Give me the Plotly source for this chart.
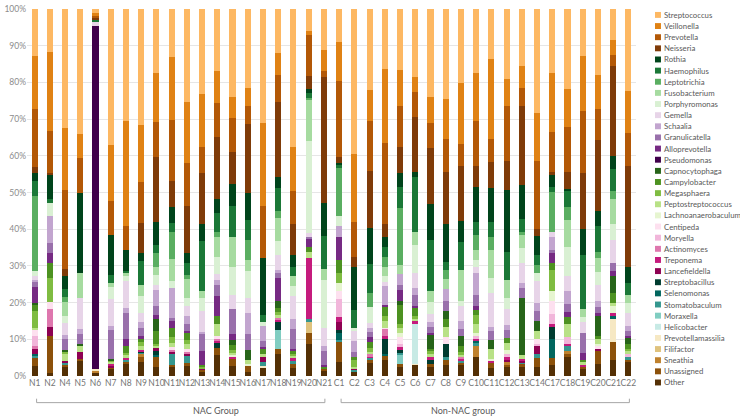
import plotly.graph_objects as go

samples = ["N1", "N2", "N4", "N5", "N6", "N7", "N8", "N9", "N10", "N11",
           "N12", "N13", "N14", "N15", "N16", "N17", "N18", "N19", "N20", "N21",
           "C1", "C2", "C3", "C4", "C5", "C6", "C7", "C8", "C9", "C10",
           "C11", "C12", "C13", "C14", "C17", "C18", "C19", "C20", "C21", "C22"]

# relative abundance (%) per genus, one value per sample
streptococcus = [12.8, 11.7, 32.4, 34, 1.0, 37, 30.5, 31.7, 17.3, 13.2, 25, 23.3, 16.8, 24, 21.6, 30.9, 11.9, 37.5, 6.1, 11.2,
                 9, 39.5, 22, 16.2, 16.7, 18.6, 24.1, 24.5, 20, 17.3, 13.7, 19.1, 15.5, 28, 17.3, 21.8, 12.8, 18, 8.5, 22.4]
veillonella = [14.4, 21.5, 17, 6.8, 0.8, 15.2, 28.5, 15.3, 13.4, 17.2, 16.6, 14.5, 8.7, 5.8, 4.8, 22.7, 6.0, 12.1, 1.0, 5.6,
               10.7, 18.6, 8.5, 20.2, 9.6, 4.1, 6.9, 11, 16.8, 13.3, 21.8, 7.4, 6, 13, 16.3, 10.3, 15, 9.2, 4.1, 11.3]
prevotella = [15.8, 11.6, 21.5, 9.4, 0.7, 9.4, 6.7, 11.3, 9.5, 16.6, 11.6, 7.2, 9.4, 9.2, 5.0, 14.3, 7.5, 8.9, 11.1, 1.8,
              20.6, 9.4, 13.7, 22.1, 11.3, 6.7, 7.0, 8.9, 5.9, 12.2, 6.2, 15.2, 5, 18.4, 10.8, 12.3, 16.8, 8.5, 2.9, 9.1]
neisseria = [1.6, 0.4, 2.0, 0, 0.3, 0, 0, 8.3, 17.9, 7.1, 12.6, 14, 16.9, 8.8, 18.8, 0, 20.3, 8.5, 3.5, 34.1,
             1.7, 2.7, 15.5, 3.6, 7.0, 15.0, 15.1, 14.1, 14.9, 5.6, 7.1, 7.9, 21.5, 2.1, 0.9, 4.7, 15.3, 19.2, 24.6, 27.6]
rothia = [2.3, 6.7, 3.6, 22, 0, 10.8, 5.8, 2.0, 6.1, 4.2, 2.8, 4.4, 3.6, 5.8, 7.4, 15.4, 3.1, 3.4, 1.1, 8.9,
          0.3, 11.6, 9.6, 2.7, 3.8, 1.3, 9.9, 10.3, 5.8, 9.7, 9.3, 17, 9.2, 5.1, 3.1, 0.6, 7.1, 4.1, 3.6, 4.2]
haemophilus = [4.1, 1.1, 2.0, 0, 0.5, 2.2, 0.4, 6.5, 2.2, 2.6, 3.2, 13.9, 5.4, 8.5, 5.4, 1.8, 6.1, 2.4, 1.4, 9.0,
               1.0, 4.9, 8.0, 2.7, 5.6, 15.1, 13.9, 2.2, 7.7, 3.5, 4.0, 7.6, 3.6, 2.7, 1.4, 4.3, 14.8, 7.1, 5.9, 3.2]
leptotrichia = [20.3, 0, 1.5, 0, 0, 0, 0, 0, 3.8, 7.3, 1.0, 0, 1.3, 0, 5.4, 0, 1.8, 0, 0.3, 0,
                13, 0, 3.9, 2.7, 15.5, 0, 0, 2.7, 0, 4.1, 3.6, 0, 0.9, 2.2, 11, 3.6, 0, 1.8, 2.2, 0]
fusobacterium = [0, 0, 3.7, 6.7, 0, 1.2, 0.9, 3.1, 2.2, 5.9, 5.1, 1.8, 5.4, 8.1, 3.1, 0, 6.3, 2.7, 11.3, 3.1,
                 0, 0, 0, 2.6, 2.5, 3.5, 3.1, 2.7, 8.5, 2.7, 7.6, 4.9, 3.5, 0, 0, 7.2, 2.3, 3.6, 6.7, 2.2]
porphyromonas = [1.4, 3.6, 2.0, 0, 0, 3.3, 1.2, 4.5, 2.7, 2.0, 2.2, 3.6, 4.5, 7.6, 7.2, 1.2, 4.0, 2.7, 25, 13,
                 2.9, 0.9, 4.2, 1.4, 0, 7.7, 3.2, 0, 1.3, 1.8, 4.0, 3.0, 4.1, 2.0, 0, 8.0, 1.4, 3.6, 4.5, 2.7]
gemella = [1.0, 0, 3.1, 8.5, 1.2, 7.2, 7.4, 2.7, 1.3, 0, 2.7, 5.7, 1.8, 4.0, 4.0, 0, 4.0, 6.3, 1.3, 4.9,
           0, 2.7, 1.3, 1.3, 0, 4.0, 2.2, 0, 4.0, 1.8, 9.4, 4.5, 5.3, 6.1, 1.3, 4.1, 3.0, 4.5, 6.3, 3.6]
schaalia = [0.7, 7.4, 1.3, 1.2, 0, 1.1, 1.3, 1.6, 4.5, 8.1, 2.3, 0.6, 1.3, 0, 5.8, 4.0, 0.9, 2.7, 0, 1.3,
            2.9, 3.1, 1.3, 5.0, 3.1, 1.8, 1.3, 3.2, 2.3, 5.8, 1.1, 1.2, 1.4, 2.2, 3.6, 3.6, 0, 1.4, 0, 1.3]
granulicatella = [1.4, 2.7, 3.0, 2.9, 0, 7.9, 7.2, 2.2, 2.3, 0.9, 1.7, 4.6, 2.9, 6.7, 4.5, 1.6, 1.3, 5.4, 0.4, 4.0,
                  0, 1.3, 1.2, 0, 1.3, 3.1, 1.7, 2.7, 1.8, 3.1, 2.5, 2.2, 2.7, 2.7, 0.9, 2.2, 5.4, 1.7, 2.2, 1.4]
alloprevotella = [4.2, 2.7, 0, 0, 0, 0, 1.8, 0.6, 1.2, 1.8, 0.4, 4.0, 5.6, 1.6, 0, 0.6, 6.3, 0.5, 2.2, 0.4,
                  6.3, 0, 1.5, 0.7, 3.1, 0.6, 0.4, 0, 0, 1.2, 0, 0, 0, 0, 2.7, 1.4, 1.8, 0.9, 1.3, 0.4]
pseudomonas = [0, 0, 0, 0, 93.4, 0, 0, 0, 0, 0, 0, 0, 0, 0, 0, 0, 0, 0, 0, 0,
               0, 0, 0, 0, 0, 0, 0, 0, 0, 0, 0, 0, 0, 0, 0, 0, 0, 0, 0, 0]
capnocytophaga = [0.6, 0, 0.4, 0.4, 0, 0.4, 0, 0, 3.3, 0, 0, 0, 0, 1.5, 2.7, 0, 1.8, 0, 0, 0,
                  0, 0, 0, 0, 1.1, 0, 3.9, 2.2, 2.7, 0, 2.3, 0, 15.7, 2.7, 0, 0, 0, 5.4, 4.5, 1.8]
campylobacter = [1.5, 4.0, 0, 0, 0, 0, 2.0, 0.9, 3.4, 2.5, 2.1, 0.4, 2.2, 1.2, 0, 1.3, 1.1, 0.9, 1.3, 0.4,
                 3.6, 0.9, 1.5, 2.4, 5.0, 2.1, 0.6, 2.2, 1.8, 1.2, 0, 1.5, 0, 0, 1.8, 1.7, 0.5, 0.9, 2.7, 1.4]
megasphaera = [4.8, 6.5, 0.6, 0, 0, 0.4, 0.6, 1.1, 0.6, 1.8, 1.0, 0.4, 0, 0.9, 0, 0, 0.9, 0.6, 0, 0,
               2.7, 1.8, 1.2, 1.3, 1.1, 0.9, 0.7, 0, 0.6, 2.5, 0, 0, 0, 0, 5.8, 0, 0, 0, 0, 0.4]
peptostreptococcus = [0.4, 0, 1.8, 1.8, 0, 0.6, 0.9, 1.0, 0.6, 1.1, 1.3, 0, 3.1, 0.4, 0.9, 0.9, 0.7, 0.7, 1.8, 0,
                      0, 0.4, 0.6, 1.8, 1.3, 0.6, 0.9, 2.7, 0.7, 2.6, 2.7, 2.0, 0.9, 2.2, 0, 3.6, 0.9, 1.3, 0.9, 0.9]
lachnoanaerobaculum = [0, 0, 0, 0, 0, 0, 0, 0, 0, 0, 0, 0, 0, 0.7, 0.7, 0, 0, 0, 0, 0,
                       2.2, 0, 0, 0, 1.3, 0, 0, 0, 0, 0.6, 0.5, 1.0, 0, 0, 2.7, 0, 0, 0.4, 1.8, 0]
centipeda = [1.6, 2.1, 0, 0, 0, 0, 0, 0, 0, 0.7, 0.9, 0, 0.9, 0, 0, 0, 0, 0, 0, 0,
             2.2, 0, 0, 0.4, 1.8, 0, 0, 1.8, 0, 0, 0, 0, 0, 1.3, 3.6, 0, 0, 0.9, 0, 0]
moryella = [2.7, 0, 0, 0, 0, 0, 0, 0, 0, 0, 0, 0, 0, 0, 0, 0, 0, 0, 0, 0,
            4.9, 0, 0, 0, 0.9, 0, 0, 0, 0, 0.9, 0, 0.9, 0, 0.6, 2.6, 2.0, 0, 0, 0, 0.9]
actinomyces = [0.9, 4.7, 0, 0, 0, 0, 0, 0, 0, 0.6, 0.6, 0, 0.6, 0, 0, 0, 0.4, 0, 0, 0,
               0, 0, 0.5, 1.8, 0, 0, 0, 0, 0.4, 0, 0, 0, 0, 0, 0, 0, 0, 0, 0, 0]
treponema = [0, 0, 0, 0, 0, 0.4, 0.4, 0.4, 0, 0, 0, 0, 0.5, 0.4, 0, 0, 0.6, 0.5, 16.6, 0,
             1.3, 0, 0.4, 0.9, 0.7, 0.7, 0.9, 0, 0.6, 0.4, 0.6, 0.6, 0.5, 0, 0.9, 0.6, 0.5, 0, 0.9, 0]
lancefieldella = [1.3, 2.5, 0.7, 1.8, 0, 0.5, 0, 0, 0.7, 0.6, 0.5, 0.4, 0, 0, 0, 1.3, 0, 0, 0, 0,
                  2.1, 0.4, 0, 0, 0, 0, 0, 0, 0, 0, 0, 0.4, 0.4, 2.1, 0, 0, 0, 0.4, 0, 0]
streptobacillus = [0, 0, 0, 0, 0, 0, 0, 0.4, 1.3, 0, 0, 0, 1.3, 0, 0, 0, 2.3, 0, 0, 0,
                   0.9, 0, 0, 4.0, 0.8, 0, 0.9, 3.6, 0, 0, 0, 0, 0, 0, 3.1, 0, 0, 0, 0, 0]
selenomonas = [0.6, 0, 0, 0, 0, 0, 0, 0, 0.4, 0, 0, 0, 0, 0, 0, 0, 0, 0, 0, 0,
               2.0, 0, 0, 0.7, 0, 0, 0, 0, 0, 0.5, 0, 0, 0, 0, 5.4, 0, 0, 0, 0.9, 0]
stomatobaculum = [0.5, 0, 0.6, 0, 0, 0, 0.5, 0.3, 0, 3.0, 2.0, 0, 0, 0, 0, 1.2, 0, 0.9, 0.6, 0,
                  0.4, 0.5, 0.4, 0, 0.5, 0, 0, 0.9, 0.5, 0.9, 0, 0, 0.4, 0.9, 0, 1.3, 0, 0, 0, 0.9]
moraxella = [0, 0, 0, 0, 0, 0, 0, 0, 0, 0, 0, 0, 0, 0, 0, 0, 5.1, 0, 0, 0,
             0, 0, 0, 0, 2.4, 0, 0, 0, 0, 0, 0, 0, 0, 0, 0, 0, 0, 0, 0, 0]
helicobacter = [0, 0, 0, 0, 0, 0, 0, 0, 0, 0, 0, 0, 0, 0, 0, 0, 0, 0, 0, 0,
                0, 0, 0, 0, 0, 10.8, 0, 0, 0, 0, 0, 0, 0, 0, 0, 0, 0, 0, 0, 0]
prevotellamassilia = [0, 0, 0, 0, 0.6, 0, 0, 0, 0, 0, 0, 0, 0, 0, 0, 0.6, 0, 0, 0, 0,
                      0, 0, 0, 0, 0, 0.4, 0, 0, 0, 0, 0, 0, 0, 0, 0, 0, 0, 0, 6.3, 0]
filifactor = [0, 0, 0, 0, 0, 0, 0, 0, 0, 0, 0, 0, 0, 0, 0, 0, 0, 0, 3.2, 0,
              0, 0, 0, 0, 0, 0, 0, 0, 0, 0, 0, 0, 0, 0, 0, 0, 0, 0, 0, 0]
sneathia = [0, 0, 0, 0, 0.5, 0, 0, 0.9, 0, 0, 0, 0, 0, 0, 0, 0, 0, 0, 0, 0,
            0, 0, 0, 0, 0, 0, 0, 0, 0, 3.1, 0, 1.0, 0, 0, 0, 0.9, 0, 0, 0, 0]
unassigned = [2.2, 10.1, 0.4, 0.4, 0, 0.4, 0.5, 1.3, 2.7, 0.4, 0.7, 0.5, 2.1, 2.1, 1.5, 0, 1.3, 1.1, 3.0, 0.5,
              5.4, 0, 1.0, 1.1, 0.9, 0, 0.9, 1.3, 0.6, 0, 1.5, 0.6, 0.9, 2.5, 1.8, 0.7, 0.5, 3.6, 4.9, 0.4]
other = [2.8, 0.9, 2.5, 4.3, 0.9, 2.0, 3.4, 3.9, 2.5, 2.5, 2.7, 1.2, 5.6, 2.7, 1.2, 2.1, 6.1, 2.3, 8.6, 1.6,
         3.9, 1.2, 3.6, 4.3, 2.5, 3.0, 2.5, 3.0, 3.0, 5.2, 2.1, 2.5, 2.5, 2.5, 3.0, 5.2, 2.0, 3.4, 4.3, 3.9]

# legend order (top of stack first)
genera = ["Streptococcus", "Veillonella", "Prevotella", "Neisseria", "Rothia", "Haemophilus",
          "Leptotrichia", "Fusobacterium", "Porphyromonas", "Gemella", "Schaalia", "Granulicatella",
          "Alloprevotella", "Pseudomonas", "Capnocytophaga", "Campylobacter", "Megasphaera",
          "Peptostreptococcus", "Lachnoanaerobaculum", "Centipeda", "Moryella", "Actinomyces",
          "Treponema", "Lancefieldella", "Streptobacillus", "Selenomonas", "Stomatobaculum",
          "Moraxella", "Helicobacter", "Prevotellamassilia", "Filifactor", "Sneathia",
          "Unassigned", "Other"]
series = [streptococcus, veillonella, prevotella, neisseria, rothia, haemophilus,
          leptotrichia, fusobacterium, porphyromonas, gemella, schaalia, granulicatella,
          alloprevotella, pseudomonas, capnocytophaga, campylobacter, megasphaera,
          peptostreptococcus, lachnoanaerobaculum, centipeda, moryella, actinomyces,
          treponema, lancefieldella, streptobacillus, selenomonas, stomatobaculum,
          moraxella, helicobacter, prevotellamassilia, filifactor, sneathia,
          unassigned, other]
colors = ["#FDB863", "#E08214", "#B35806", "#7F3B08", "#00441B", "#1B7837",
          "#5AAE61", "#A6DBA0", "#D9F0D3", "#E7D4E8", "#C2A5CF", "#9970AB",
          "#762A83", "#40004B", "#276419", "#4D9221", "#7FBC41",
          "#B8E186", "#E6F5D0", "#FDE0EF", "#F1B6DA", "#DE77AE",
          "#C51B7D", "#8E0152", "#003C30", "#01665E", "#35978F",
          "#80CDC1", "#C7EAE5", "#F6E8C3", "#DFC27D", "#BF812D",
          "#8C510A", "#543005"]

# (label, first bar, last bar, label pixel centre)
groups = [("NAC Group", 0, 19, 190), ("Non-NAC group", 20, 39, 497)]

FONT = "Lato"
L, R, T, B = 26, 104, 4, 41
W, H = 740, 417
pw, ph = W - L - R, H - T - B
step = pw / len(samples)


def px_x(px):
    return (px - L) / pw


def px_y(py):
    return (H - B - py) / ph


def bar_px(i):
    return L + step * (i + 0.5)


fig = go.Figure()
for name, vals, col in reversed(list(zip(genera, series, colors))):
    fig.add_bar(x=samples, y=vals, name=name, marker_color=col, marker_line_width=0)

shapes = []
annotations = []

# hand-made legend (34 entries are too many for plotly's own legend spacing)
for i, (name, col) in enumerate(zip(genera, colors)):
    cy = 10 + i * 11.29
    shapes.append(dict(type="rect", xref="paper", yref="paper",
                       x0=px_x(655), x1=px_x(661), y0=px_y(cy + 3), y1=px_y(cy - 3),
                       fillcolor=col, line_width=0))
    annotations.append(dict(x=px_x(662), y=px_y(cy), xref="paper", yref="paper",
                            text=name, showarrow=False, xanchor="left", yanchor="middle",
                            font=dict(size=7.8, color="#595959", family=FONT)))

# group brackets under the axis
for label, i0, i1, cx in groups:
    x0, x1 = px_x(bar_px(i0) + 2), px_x(bar_px(i1) + 1)
    ly, ty = px_y(403), px_y(399)
    shapes.append(dict(type="line", xref="paper", yref="paper", x0=x0, x1=x1,
                       y0=ly, y1=ly, line=dict(color="#a6a6a6", width=1)))
    for xe in (x0, x1):
        shapes.append(dict(type="line", xref="paper", yref="paper", x0=xe, x1=xe,
                           y0=ly, y1=ty, line=dict(color="#a6a6a6", width=1)))
    annotations.append(dict(x=px_x(cx), y=px_y(411), xref="paper", yref="paper", text=label,
                            showarrow=False, yanchor="middle",
                            font=dict(size=9, color="#595959", family=FONT)))

fig.update_layout(
    width=W, height=H,
    barmode="stack", barnorm="percent", bargap=0.6,
    showlegend=False,
    plot_bgcolor="white", paper_bgcolor="white",
    margin=dict(l=L, r=R, t=T, b=B),
    font=dict(family=FONT, size=8.5, color="#767676"),
    shapes=shapes, annotations=annotations,
)
fig.update_xaxes(type="category", tickangle=0, tickfont=dict(size=8.5, color="#767676"),
                 showline=False, ticks="", showgrid=False)
fig.update_yaxes(range=[0, 100.01], tickvals=list(range(0, 101, 10)),
                 ticktext=[f"{v}%" for v in range(0, 101, 10)], showgrid=True,
                 gridcolor="#e6e6e6", zeroline=False, showline=False,
                 ticklabeloverflow="allow",
                 tickfont=dict(size=8.5, color="#8c8c8c"))

# the page body has a default 8px margin; drop it so the figure fills the window
fig.write_html("out.html", config={"displayModeBar": False},
               post_script="document.body.style.margin = '0';")
